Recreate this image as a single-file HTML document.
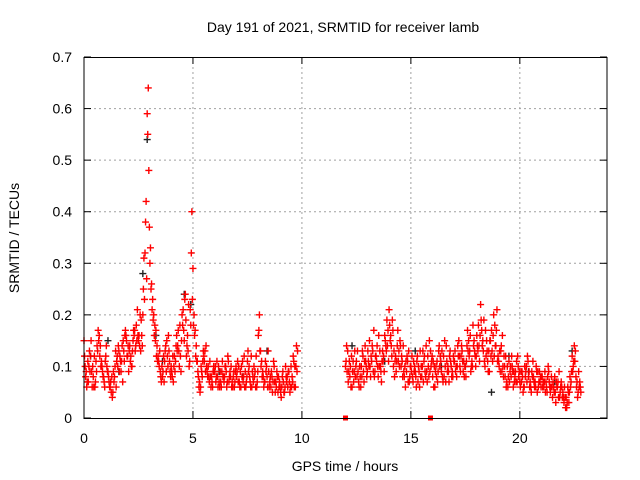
<!DOCTYPE html>
<html><head><meta charset="utf-8"><style>
body{margin:0;background:#fff;}
svg{display:block;font-family:"Liberation Sans",sans-serif;}
</style></head><body>
<svg id="chart" width="640" height="480" viewBox="0 0 640 480" xmlns="http://www.w3.org/2000/svg">
<text x="343" y="32" font-size="14" text-anchor="middle">Day 191 of 2021, SRMTID for receiver lamb</text>
<text transform="translate(19,238) rotate(-90)" font-size="14" text-anchor="middle">SRMTID / TECUs</text>
<text x="345" y="471" font-size="14" text-anchor="middle">GPS time / hours</text>
<g id="grid"></g><g id="ticks"></g><g id="marks"></g>
<rect x="84" y="57.5" width="523" height="361" fill="none" stroke="#000" stroke-width="1"/>
</svg>
<script>
const xTicks=[0,5,10,15,20];
const yTicks=[0,0.1,0.2,0.3,0.4,0.5,0.6,0.7];
const yTickLabels=["0","0.1","0.2","0.3","0.4","0.5","0.6","0.7"];
const step=0.1;
const segA=[150,90,70,120,100,60,140,160,110,80,120,90,60,40,80,110,130,90,150,170,120,140,100,160,180,150,130,200,320,590,370,260,200,170,120,90,80,110,150,130,100,70,110,140,180,200,150,120,220,180,290,170,110,70,90,120,140,100,80,60,90,110,70,60,80,100,120,90,70,60,80,100,60,70,90,110,80,60,100,120,160,130,90,70,80,60,90,110,70,50,60,80,50,70,90,100,120,60,130];
const segA2=[100,70,130,90,60,110,170,140,90,60,100,70,50,90,130,100,120,140,110,150,90,120,150,130,210,140,160,310,420,640,330,230,180,140,100,70,120,140,100,90,80,120,160,130,90,210,240,160,110,400,200,140,80,60,110,130,90,70,80,100,70,60,90,110,80,60,70,100,80,90,110,60,80,120,70,90,60,80,90,70,200,110,60,90,130,80,50,70,90,60,40,70,100,60,50,80,60,140];
const segA3=[120,60,100,150,80,70,130,120,100,70,140,80,70,50,100,120,90,110,130,160,140,110,130,170,150,160,190,250,380,550,300,210,160,120,110,80,90,130,120,110,90,100,140,170,120,180,230,140,100,320,180,120,90,50,80,110,100,80,60,90,100,80,60,90,70,90,110,80,60,70,90,70,100,80,60,130,70,90,80,60,170,100,80,110,60,70,80,100,60,80,50,90,60,80,70,60,110,100];
const segA4=[80,110,90,60,120,90,150,100,80,110,90,60,80,70,60,140,110,70,160,120,130,100,170,140,160,200,140,230,270,480,250,190,150,110,130,100,70,90,160,80,120,90,130,100,150,170,190,130,210,230,160,110,60,100,130,90,80,110,70,90,80,100,70,80,100,70,80,60,90,100,70,90,110,60,80,100,120,70,60,90,130,80,70,100,90,60,70,50,80,70,60,50,80,90,60,70,100,90];
const segB=[100,130,80,60,90,110,70,60,120,140,90,150,110,170,120,80,100,130,160,190,210,140,100,120,170,150,110,80,90,130,100,70,90,120,60,80,110,140,100,130,80,60,110,140,90,120,70,100,130,90,110,80,150,120,90,100,170,130,110,150,120,180,220,150,100,130,90,170,200,140,120,90,160,100,70,110,80,60,90,120,70,90,60,100,80,60,110,70,50,90,80,60,70,100,50,40,80,60,90,70,40,20,60,80,120,140,60,90,50];
const segB2=[140,90,60,110,80,130,100,80,70,100,110,80,130,90,140,100,70,120,140,170,150,190,80,110,130,100,140,60,110,80,120,90,60,100,80,130,90,70,150,110,60,100,90,120,80,150,110,70,100,120,90,140,100,130,80,110,150,90,180,120,140,110,170,190,120,90,150,110,180,210,100,140,80,120,60,90,100,70,110,80,90,50,80,120,60,90,70,100,60,80,60,90,50,70,80,60,30,70,50,40,60,20,30,70,100,130,40,70];
const segB3=[110,70,100,90,130,80,60,100,90,110,130,100,140,80,110,160,90,110,150,140,180,120,130,90,110,140,80,100,120,70,90,110,80,70,130,100,120,90,80,100,110,90,70,100,130,80,140,90,110,80,130,100,120,140,110,80,130,160,100,130,160,140,190,130,170,110,150,130,120,170,110,130,100,80,100,70,120,90,70,100,60,80,100,70,90,50,80,60,90,70,80,70,60,90,60,70,50,60,40,60,30,40,50,60,90,110,70,60];
const segB4=[90,110,120,70,100,90,80,130,110,80,100,120,90,120,100,130,110,90,130,110,160,170,110,140,100,120,90,110,70,100,80,100,110,90,100,70,80,120,90,120,100,80,130,110,70,100,90,120,80,110,100,120,90,110,100,140,120,100,140,100,130,160,140,110,150,130,120,160,140,110,130,90,120,60,80,100,90,80,70,90,70,60,90,110,70,80,60,90,70,60,70,50,80,60,60,50,70,40,60,50,40,30,50,90,110,80,50,60];
const segStarts=[0.0,0.05,0.025,0.075,12.0,12.05,12.025,12.075];
const blackTimes=[0.3,1.6,2.7,2.9,3.3,4.6,4.9,6.2,8.4,12.3,13.8,15.2,17.5,18.7,20.4,22.4,1.1,3.6,7.3,16.4,19.5,21.6];
const blackVals=[0.12,0.09,0.28,0.54,0.16,0.24,0.22,0.09,0.13,0.14,0.11,0.13,0.1,0.05,0.09,0.13,0.15,0.11,0.08,0.1,0.12,0.07];
const zeroTimes=[12.0,15.9];
const zeroVals=[0,0];
const NS="http://www.w3.org/2000/svg";
const xs=t=>84+t*(523/24);
const ys=v=>418-v*(361/0.7);
const grid=document.getElementById('grid'),ticks=document.getElementById('ticks'),marks=document.getElementById('marks');
function mk(tag,attrs,parent){const e=document.createElementNS(NS,tag);for(const k in attrs)e.setAttribute(k,attrs[k]);parent.appendChild(e);return e;}
xTicks.forEach(t=>{
 const x=xs(t);
 if(t>0){const g=mk('line',{x1:x,x2:x,y1:57,y2:418,stroke:'#a0a0a0','stroke-dasharray':'2,3'},grid);
 
 }
 const tk=mk('line',{x1:x,x2:x,y1:418,y2:411,stroke:'#000'},ticks);
 
 
 const tk2=mk('line',{x1:x,x2:x,y1:57,y2:64,stroke:'#000'},ticks);
 
 
 const lb=mk('text',{x:x,y:443,'font-size':14,'text-anchor':'middle'},ticks);lb.textContent=String(t);
 
 
});
yTicks.forEach((v,i)=>{
 const y=ys(v);
 if(v>0&&v<0.7){const g=mk('line',{x1:84,x2:607,y1:y,y2:y,stroke:'#a0a0a0','stroke-dasharray':'2,3'},grid);
 
 }
 const tk=mk('line',{x1:84,x2:91,y1:y,y2:y,stroke:'#000'},ticks);
 
 
 const tk2=mk('line',{x1:600,x2:607,y1:y,y2:y,stroke:'#000'},ticks);
 
 
 const lb=mk('text',{x:72,y:y+5,'font-size':14,'text-anchor':'end'},ticks);lb.textContent=yTickLabels[i];
 
 
});
function plus(t,v,color){
 const x=xs(t),y=ys(v);
 const p=mk('path',{d:`M${x-3.5},${y}h7M${x},${y-3.5}v7`,stroke:color,'stroke-width':1.4,fill:'none'},marks);
 
 
}
blackTimes.forEach((t,i)=>plus(t,blackVals[i],'#222'));
[segA,segA2,segA3,segA4,segB,segB2,segB3,segB4].forEach((arr,k)=>{
 arr.forEach((v,i)=>plus(segStarts[k]+i*step,v/1000,'#ff0000'));
});
zeroTimes.forEach((t,i)=>{
 const r=mk('rect',{x:xs(t)-2.5,y:ys(zeroVals[i])-2.5,width:5,height:5,fill:'#ff0000'},marks);
 
 
});
</script>
</body></html>
